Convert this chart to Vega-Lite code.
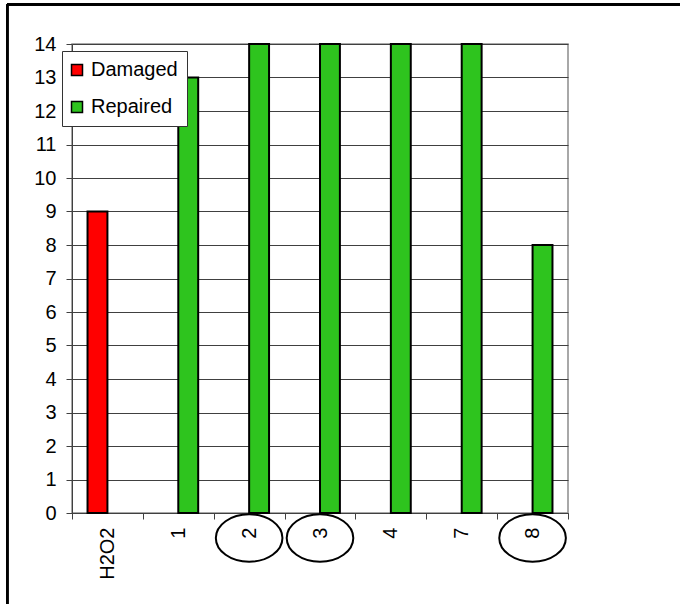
{
  "$schema": "https://vega.github.io/schema/vega-lite/v6.json",
  "width": 496,
  "height": 469,
  "autosize": {"type": "none"},
  "padding": {"left": 72, "top": 44, "right": 112, "bottom": 91},
  "background": "white",
  "config": {
    "font": "Liberation Sans",
    "view": {"stroke": "#8c8c8c", "strokeWidth": 1.5},
    "axisY": {
      "title": null,
      "values": [0, 1, 2, 3, 4, 5, 6, 7, 8, 9, 10, 11, 12, 13, 14],
      "labelOverlap": false,
      "labelFontSize": 20,
      "labelColor": "black",
      "tickSize": 6,
      "labelPadding": 10,
      "tickColor": "#404040",
      "domainColor": "#404040",
      "gridColor": "#404040",
      "gridWidth": 1
    }
  },
  "data": {
    "values": [
      {"label": "H2O2", "series": "Damaged", "value": 9, "circled": false},
      {"label": "1", "series": "Repaired", "value": 13, "circled": false},
      {"label": "2", "series": "Repaired", "value": 14, "circled": true},
      {"label": "3", "series": "Repaired", "value": 14, "circled": true},
      {"label": "4", "series": "Repaired", "value": 14, "circled": false},
      {"label": "7", "series": "Repaired", "value": 14, "circled": false},
      {"label": "8", "series": "Repaired", "value": 8, "circled": true}
    ]
  },
  "layer": [
    {
      "mark": {"type": "bar", "stroke": "black", "strokeWidth": 2},
      "encoding": {
        "x": {
          "field": "label",
          "type": "nominal",
          "scale": {"domain": ["H2O2", "1", "2", "3", "4", "7", "8"], "paddingInner": 0, "paddingOuter": 0},
          "axis": {
            "title": null,
            "labelAngle": -90,
            "labelFontSize": 20,
            "labelColor": "black",
            "tickBand": "extent",
            "tickSize": 6,
            "tickColor": "#404040",
            "domainColor": "#404040",
            "labelPadding": 8,
            "grid": false
          }
        },
        "xOffset": {
          "field": "series",
          "type": "nominal",
          "scale": {"domain": ["Damaged", "Repaired"], "paddingInner": 0, "paddingOuter": 0.78}
        },
        "y": {
          "field": "value",
          "type": "quantitative",
          "scale": {"domain": [0, 14], "nice": false},
          "axis": {"title": null, "values": [0, 1, 2, 3, 4, 5, 6, 7, 8, 9, 10, 11, 12, 13, 14]}
        },
        "color": {
          "field": "series",
          "type": "nominal",
          "scale": {"domain": ["Damaged", "Repaired"], "range": ["#ff0000", "#2ec41e"]},
          "legend": {
            "orient": "none",
            "legendX": -10,
            "legendY": 7,
            "title": null,
            "labelFontSize": 20,
            "labelColor": "black",
            "symbolType": "square",
            "symbolSize": 121,
            "symbolStrokeColor": "black",
            "symbolStrokeWidth": 1.5,
            "symbolOpacity": 1,
            "symbolOffset": -4,
            "strokeColor": "#333333",
            "fillColor": "white",
            "padding": 9,
            "rowPadding": 17,
            "labelOffset": 4
          }
        }
      }
    },
    {
      "transform": [{"filter": "datum.circled"}],
      "mark": {
        "type": "point",
        "shape": "M-1,0A1,0.713,0,1,0,1,0A1,0.713,0,1,0,-1,0Z",
        "size": 4436,
        "filled": false,
        "stroke": "black",
        "strokeWidth": 2,
        "opacity": 1,
        "yOffset": 25
      },
      "encoding": {
        "x": {"field": "label", "type": "nominal"},
        "y": {"datum": 0, "axis": {"title": null, "values": [0, 1, 2, 3, 4, 5, 6, 7, 8, 9, 10, 11, 12, 13, 14]}}
      }
    },
    {
      "mark": {"type": "rule", "color": "black", "strokeWidth": 2, "xOffset": -65, "x2Offset": 147.4, "yOffset": -39.5},
      "encoding": {
        "x": {"datum": "H2O2", "bandPosition": 0},
        "x2": {"datum": "8"},
        "y": {"datum": 14, "axis": {"title": null, "values": [0, 1, 2, 3, 4, 5, 6, 7, 8, 9, 10, 11, 12, 13, 14]}}
      }
    },
    {
      "mark": {"type": "rule", "color": "black", "strokeWidth": 2, "xOffset": -64.7, "yOffset": -39.5, "y2Offset": 91},
      "encoding": {
        "x": {"datum": "H2O2", "bandPosition": 0},
        "y": {"datum": 14, "axis": {"title": null, "values": [0, 1, 2, 3, 4, 5, 6, 7, 8, 9, 10, 11, 12, 13, 14]}},
        "y2": {"datum": 0}
      }
    }
  ]
}
